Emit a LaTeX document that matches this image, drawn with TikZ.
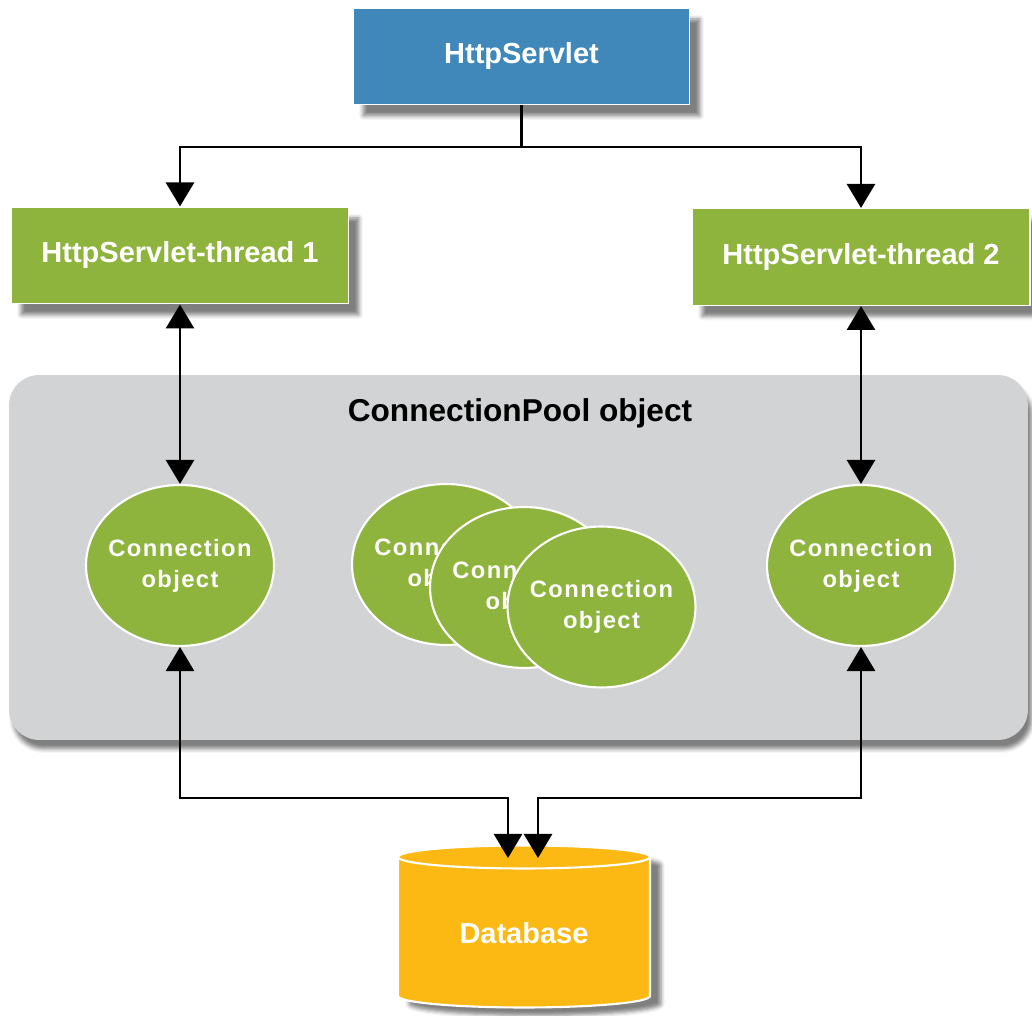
\documentclass[tikz,border=0pt]{standalone}
\usepackage{fontspec}
\setmainfont{Liberation Sans}
\newfontfamily\spacedfont[LetterSpace=6]{Liberation Sans}
\usepackage{tikz}
\usetikzlibrary{arrows.meta,shapes.geometric,shadows.blur}
\definecolor{servletblue}{RGB}{63,136,185}
\definecolor{threadgreen}{RGB}{143,180,62}
\definecolor{poolgray}{RGB}{209,211,212}
\definecolor{dborange}{RGB}{253,185,19}
\pgfdeclarelayer{nodelayer}
\pgfdeclarelayer{edgelayer}
\pgfsetlayers{nodelayer,edgelayer,main}
\tikzstyle{none}=[inner sep=0pt]
\tikzstyle{servlet}=[rectangle, fill=servletblue, draw=white, line width=0.6pt, minimum width=6.74cm, minimum height=1.94cm, text=white, font=\bfseries\fontsize{16.5}{20}\selectfont, blur shadow={shadow xshift=0.2cm, shadow yshift=-0.22cm, shadow blur radius=0.08cm, shadow opacity=50}]
\tikzstyle{thread}=[servlet, fill=threadgreen, minimum width=6.76cm]
\tikzstyle{poolbox}=[rectangle, rounded corners=0.6cm, fill=poolgray, minimum width=20.38cm, minimum height=7.3cm, blur shadow={shadow xshift=0.08cm, shadow yshift=-0.18cm, shadow blur radius=0.08cm, shadow opacity=50}]
\tikzstyle{pooltitle}=[inner sep=0pt, font=\bfseries\fontsize{18}{22}\selectfont]
\tikzstyle{conn}=[ellipse, fill=threadgreen, draw=white, line width=1.2pt, minimum width=3.76cm, minimum height=3.22cm, inner xsep=-0.2cm, inner ysep=0pt, text=white, align=center, font=\spacedfont\bfseries\fontsize{13.5}{17.6}\selectfont]
\tikzstyle{dbbody}=[fill=dborange, draw=white, line width=1.2pt, blur shadow={shadow xshift=0.22cm, shadow yshift=-0.16cm, shadow blur radius=0.08cm, shadow opacity=50}]
\tikzstyle{dbtext}=[inner sep=0pt, text=white, font=\bfseries\fontsize{16.5}{20}\selectfont]
\tikzstyle{link}=[draw=black, line width=1.6pt, -{Triangle[width=0.56cm,length=0.48cm]}]
\tikzstyle{twoway}=[link, {Triangle[width=0.56cm,length=0.48cm]}-{Triangle[width=0.56cm,length=0.48cm]}]

\begin{document}
\begin{tikzpicture}[x=0.02cm, y=0.02cm]
	\useasboundingbox (0, 0) rectangle (1032, 1016);
	\begin{pgfonlayer}{nodelayer}
		\node [style=poolbox] (3) at (518.5, 458.5) {};
		\node [style=servlet] (0) at (521.5, 959.5) {HttpServlet};
		\node [style=thread] (1) at (180, 760.5) {HttpServlet-thread 1};
		\node [style=thread] (2) at (861, 759) {HttpServlet-thread 2};
		\node [style=pooltitle] (4) at (520, 603) {ConnectionPool object};
		\node [style=conn] (5) at (180, 450.5) {Connection\\object};
		\node [style=conn] (6) at (446, 451.5) {Connection\\object};
		\node [style=conn] (7) at (524, 428.5) {Connection\\object};
		\node [style=conn] (8) at (601.5, 409) {Connection\\object};
		\node [style=conn] (9) at (861, 450.5) {Connection\\object};
		% database drum
		\path [style=dbbody] (398, 159) -- (398, 20) arc [start angle=180, end angle=360, x radius=126, y radius=11.5] -- (650, 159) arc [start angle=0, end angle=180, x radius=126, y radius=11.5] -- cycle;
		\draw [white, line width=1.2pt] (398, 159) arc [start angle=180, end angle=360, x radius=126, y radius=11.5];
		\node [style=dbtext] (10) at (524, 83) {Database};
		\node [style=none] (11) at (521.5, 869) {};
		\node [style=none] (12) at (508, 218) {};
		\node [style=none] (13) at (538, 218) {};
		\coordinate (14) at (508, 158);
		\coordinate (15) at (538, 158);
	\end{pgfonlayer}
	\begin{pgfonlayer}{edgelayer}
		\draw [style=link] (0.south) -- (11.center) -| (1.north);
		\draw [style=link] (11.center) -| (2.north);
		\draw [style=twoway] (1.south) -- (5.north);
		\draw [style=twoway] (2.south) -- (9.north);
		\draw [style=twoway] (5.south) |- (12.center) -- (14);
		\draw [style=twoway] (9.south) |- (13.center) -- (15);
	\end{pgfonlayer}
\end{tikzpicture}
\end{document}
